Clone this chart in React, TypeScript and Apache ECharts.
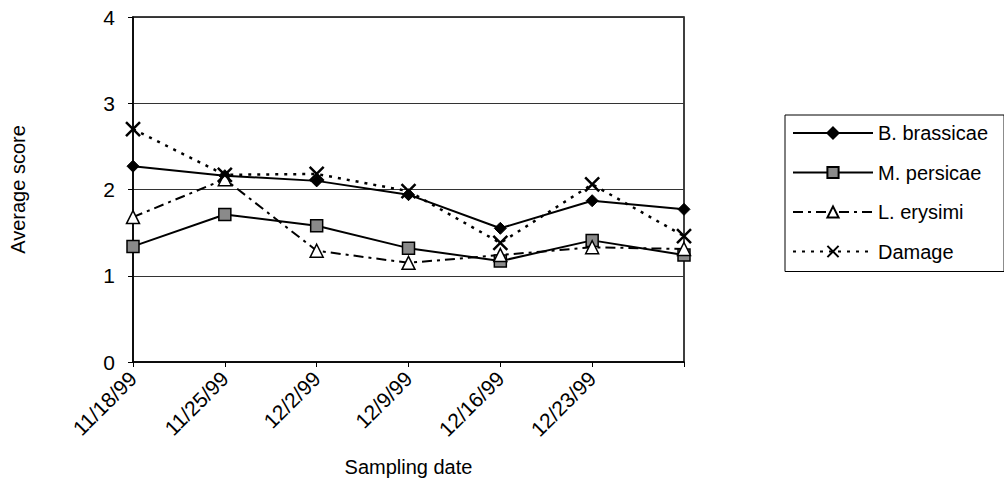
import React, { useEffect, useRef } from "react";
import * as echarts from "echarts";

const categories = ["11/18/99", "11/25/99", "12/2/99", "12/9/99", "12/16/99", "12/23/99", ""];
const bBrassicae = [2.27, 2.16, 2.1, 1.94, 1.55, 1.87, 1.77];
const mPersicae = [1.34, 1.71, 1.58, 1.32, 1.17, 1.41, 1.24];
const lErysimi = [1.68, 2.12, 1.29, 1.15, 1.24, 1.33, 1.31];
const damage = [2.7, 2.17, 2.18, 1.98, 1.38, 2.06, 1.46];
const yTicks = [0, 1, 2, 3, 4];

const FONT = "'Liberation Sans', Arial, sans-serif";
const X_SYMBOL = "path://M0,0L10,10M10,0L0,10";

export default function App() {
  const ref = useRef<HTMLDivElement>(null);
  useEffect(() => {
    if (!ref.current) return;
    const chart = echarts.init(ref.current, null, { renderer: "svg" });
    chart.setOption({
      animation: false,
      backgroundColor: "#fff",
      textStyle: { fontFamily: FONT, color: "#000" },
      grid: {
        left: 131,
        right: 320,
        top: 17,
        bottom: 123,
        show: true,
        borderColor: "#000",
        borderWidth: 1.5,
      },
      legend: {
        orient: "vertical",
        left: 785,
        top: 115,
        itemWidth: 80,
        itemHeight: 14,
        itemGap: 19.5,
        padding: [8, 16, 10, 7],
        borderColor: "#000",
        borderWidth: 1,
        textStyle: { fontFamily: FONT, fontSize: 20, lineHeight: 20, color: "#000" },
        data: ["B. brassicae", "M. persicae", "L. erysimi", "Damage"],
      },
      xAxis: {
        type: "category",
        data: categories,
        boundaryGap: false,
        name: "Sampling date",
        nameLocation: "middle",
        nameGap: 95,
        nameTextStyle: { fontFamily: FONT, fontSize: 20, color: "#000" },
        axisLine: { lineStyle: { color: "#000", width: 1.5 } },
        axisTick: { show: true, length: 5, lineStyle: { color: "#000" } },
        axisLabel: {
          rotate: 45,
          fontFamily: FONT,
          fontSize: 21,
          color: "#000",
          margin: 13,
          interval: 0,
        },
        splitLine: { show: false },
      },
      yAxis: {
        type: "value",
        min: 0,
        max: 4,
        interval: 1,
        name: "Average score",
        nameLocation: "middle",
        nameRotate: 90,
        nameGap: 105,
        nameTextStyle: { fontFamily: FONT, fontSize: 20, color: "#000" },
        axisLine: { show: true, lineStyle: { color: "#000", width: 1.5 } },
        axisTick: { show: true, length: 5, lineStyle: { color: "#000" } },
        axisLabel: {
          fontFamily: FONT,
          fontSize: 21,
          color: "#000",
          margin: 18,
          formatter: (v: number) => (yTicks.includes(v) ? String(v) : ""),
        },
        splitLine: { show: true, lineStyle: { color: "#333", width: 1 } },
      },
      series: [
        {
          name: "B. brassicae",
          type: "line",
          data: bBrassicae,
          symbol: "diamond",
          symbolSize: 12,
          lineStyle: { color: "#000", width: 2, type: "solid" },
          itemStyle: { color: "#000", borderColor: "#000", borderWidth: 1 },
        },
        {
          name: "M. persicae",
          type: "line",
          data: mPersicae,
          symbol: "rect",
          symbolSize: 12,
          lineStyle: { color: "#000", width: 2, type: "solid" },
          itemStyle: { color: "#8a8a8a", borderColor: "#000", borderWidth: 1.5 },
        },
        {
          name: "L. erysimi",
          type: "line",
          data: lErysimi,
          symbol: "triangle",
          symbolSize: 13,
          lineStyle: { color: "#000", width: 2, type: [10, 5, 3, 5] },
          itemStyle: { color: "#fff", borderColor: "#000", borderWidth: 1.5 },
        },
        {
          name: "Damage",
          type: "line",
          data: damage,
          symbol: X_SYMBOL,
          symbolSize: 14,
          lineStyle: { color: "#000", width: 2.5, type: [3, 6] },
          itemStyle: { color: "none", borderColor: "#000", borderWidth: 2.5 },
        },
      ],
    });
    return () => chart.dispose();
  }, []);
  return <div ref={ref} style={{ width: 1004, height: 485, position: "absolute", left: 0, top: 0 }} />;
}
